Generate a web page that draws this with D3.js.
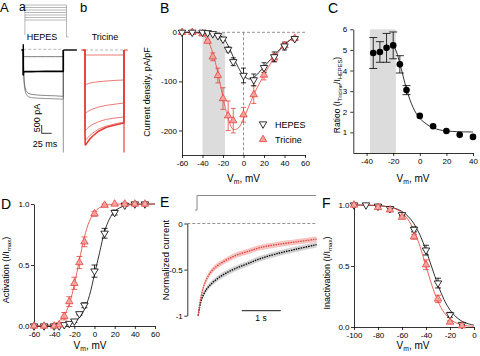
<!DOCTYPE html>
<html>
<head>
<meta charset="utf-8">
<script src="https://cdn.jsdelivr.net/npm/d3@7/dist/d3.min.js"></script>
<style>
html,body{margin:0;padding:0;background:#fff;}
svg{display:block;}
text{font-family:"Liberation Sans",Arial,Helvetica,sans-serif;}
</style>
</head>
<body>
<svg id="fig" width="480" height="356" viewBox="0 0 480 356"></svg>
<script>
// ================= DATA =================
// Panel A: voltage protocol steps (mV) and current traces (ms, pA)
const aProtoSteps = [-40, -30, -20, -10, 0, 10, 20];
const aTime = [0, 0.5, 1, 2, 4, 7, 12, 20, 35, 55, 80, 100];
const aHepes1 = [-300, -380, -400, -400, -400, -400, -400, -400, -400, -400, -400, -400];
const aHepes2 = [-1500, -1380, -1330, -1310, -1300, -1300, -1300, -1300, -1290, -1285, -1280, -1280];
const aHepes3 = [-350, -850, -1300, -1800, -2200, -2450, -2600, -2660, -2700, -2730, -2750, -2780];
const aHepes4 = [-400, -950, -1450, -2000, -2400, -2650, -2800, -2860, -2890, -2910, -2930, -2950];
const aTric1 = [-200, -300, -300, -300, -300, -300, -300, -300, -300, -300, -300, -300];
const aTric2 = [-1400, -2000, -2100, -2100, -2070, -2030, -1990, -1950, -1900, -1860, -1820, -1800];
const aTric3 = [-3000, -3650, -3780, -3780, -3740, -3700, -3620, -3540, -3420, -3320, -3240, -3180];
const aTric4 = [-4000, -4700, -4800, -4800, -4750, -4680, -4580, -4460, -4300, -4160, -4070, -4020];
const aTric5 = [-4550, -5300, -5400, -5400, -5340, -5260, -5140, -4980, -4740, -4560, -4420, -4320];
const aTric6 = [-5000, -5600, -5700, -5690, -5620, -5510, -5350, -5160, -4870, -4640, -4480, -4380];
const aTail = -6150;

// Panel B: I-V (mV, pA/pF)
const bV = [-60, -50, -40, -35, -30, -25, -20, -15, -10, 0, 10, 20, 30, 40, 50];
const bHepes = [0, 0, 0, -1, -3, -7, -14, -35, -60, -88, -97, -72, -50, -28, -13];
const bHepesErr = [0, 0, 0, 0, 0, 0, 2, 5, 8, 15, 12, 10, 10, 8, 4];
const bTric = [0, 0, -3, -18, -50, -88, -135, -170, -180, -168, -127, -87, -52, -27, -12];
const bTricErr = [0, 0, 0, 3, 8, 15, 22, 30, 25, 15, 18, 10, 8, 5, 3];
const bFitV = [-60, -50, -45, -40, -35, -30, -25, -20, -15, -10, -5, 0, 5, 10, 20, 30, 40, 50];
const bFitTric = [0, -0.5, -2, -5, -16, -42, -83, -133, -175, -198, -195, -176, -152, -127, -87, -52, -26, -8];
const bFitHepes = [0, 0, 0, 0, -0.5, -1.5, -4, -11, -27, -50, -72, -88, -95, -92, -70, -47, -25, -8];
const bShade = [-40, -18];

// Panel C: ratio
const cV = [-35, -30, -25, -20, -15, -10, 0, 10, 20, 30, 40];
const cR = [4.85, 4.9, 5.1, 5.22, 4.3, 3.05, 1.8, 1.3, 1.07, 0.88, 0.78];
const cErr = [0.75, 0.5, 0.7, 0.65, 0.42, 0.22, 0, 0, 0, 0, 0];
const cFitV = [-22, -20, -17.5, -15, -12.5, -10, -7.5, -5, -2.5, 0, 5, 10, 15, 20, 30, 40];
const cFit = [5.3, 5.22, 4.9, 4.35, 3.72, 3.1, 2.6, 2.2, 1.9, 1.68, 1.4, 1.22, 1.12, 1.07, 1.03, 1.02];
const cShade = [-37.5, -18];

// Panel D: activation
const dV = [-60, -50, -40, -35, -30, -25, -20, -15, -10, 0, 10, 20, 30, 40, 50];
const dTric = [0, 0, 0, 0.01, 0.08, 0.2, 0.35, 0.52, 0.69, 0.92, 0.99, 1, 1, 1, 1];
const dTricErr = [0, 0, 0, 0.01, 0.03, 0.04, 0.05, 0.05, 0.04, 0.02, 0.01, 0, 0, 0, 0];
const dHepes = [0, 0, 0, 0, 0.01, 0.02, 0.04, 0.1, 0.17, 0.45, 0.76, 0.93, 0.99, 1, 1];
const dHepesErr = [0, 0, 0, 0, 0, 0, 0.01, 0.01, 0.02, 0.05, 0.04, 0.02, 0.01, 0, 0];
const dFitV = [-60, -50, -40, -35, -30, -25, -20, -15, -10, -5, 0, 5, 10, 15, 20, 30, 40, 50, 60];
const dFitTric = [0, 0.003, 0.018, 0.04, 0.088, 0.18, 0.34, 0.54, 0.73, 0.86, 0.935, 0.97, 0.987, 0.995, 0.998, 1, 1, 1, 1];
const dFitHepes = [0, 0, 0.002, 0.005, 0.01, 0.017, 0.033, 0.068, 0.136, 0.25, 0.424, 0.6, 0.774, 0.88, 0.941, 0.986, 0.997, 0.999, 1];

// Panel E: normalized current decay (s)
const eT = [0, 0.03, 0.08, 0.15, 0.22, 0.3, 0.4, 0.55, 0.75, 1.0, 1.3, 1.6, 2.0, 2.5, 3.04];
const eTric = [-1, -0.9, -0.78, -0.67, -0.6, -0.54, -0.49, -0.44, -0.39, -0.34, -0.3, -0.26, -0.23, -0.2, -0.17];
const eHepes = [-1, -0.92, -0.83, -0.76, -0.71, -0.67, -0.63, -0.58, -0.53, -0.48, -0.43, -0.38, -0.33, -0.28, -0.23];
const eSem = 0.03;

// Panel F: inactivation
const fVH = [-100, -90, -80, -70, -60, -50, -40, -30, -20, -10];
const fHepes = [1.0, 1.0, 0.99, 0.97, 0.92, 0.8, 0.63, 0.36, 0.1, 0.02];
const fHepesErr = [0, 0, 0, 0, 0.01, 0.02, 0.04, 0.04, 0.02, 0.01];
const fVT = [-100, -80, -70, -60, -50, -40, -30, -20, -10];
const fTric = [1.0, 0.98, 0.96, 0.9, 0.74, 0.51, 0.23, 0.04, 0.01];
const fTricErr = [0, 0, 0, 0.01, 0.02, 0.04, 0.03, 0.01, 0];
const fFitV = [-100, -90, -80, -70, -65, -60, -55, -50, -45, -40, -35, -30, -25, -20, -15, -10, -5, 0];
const fFitHepes = [1.0, 0.998, 0.995, 0.983, 0.97, 0.947, 0.908, 0.846, 0.754, 0.629, 0.485, 0.344, 0.225, 0.139, 0.083, 0.047, 0.027, 0.015];
const fFitTric = [1.0, 0.999, 0.995, 0.982, 0.966, 0.935, 0.881, 0.791, 0.661, 0.5, 0.339, 0.209, 0.119, 0.065, 0.034, 0.018, 0.009, 0.005];

// ================= DRAWING =================
const FONT = '"Liberation Sans", Arial, Helvetica, sans-serif';
const RED = "#e3413b", PINK = "#f5a3a0", SHADE = "#dcdcdc";
const svg = d3.select("#fig");
const zip = (a, b) => a.map((v, i) => [v, b[i]]);

function txt(x, y, s, size, anchor, rot) {
  const t = svg.append("text").attr("font-size", size).attr("fill", "#000")
    .attr("text-anchor", anchor || "start");
  if (rot) t.attr("transform", `translate(${x},${y}) rotate(${rot})`);
  else t.attr("x", x).attr("y", y);
  if (typeof s === "string") t.text(s);
  else s.forEach(p => {
    const ts = t.append("tspan").text(p.t);
    if (p.sub) ts.attr("font-size", size * 0.68).attr("dy", size * 0.22);
    if (p.up) ts.attr("dy", -size * 0.22);
  });
  return t;
}
function vmLabel(cx, y) {
  txt(cx, y, [{t: "V"}, {t: "m", sub: 1}, {t: ", mV", up: 1}], 10, "middle");
}
function styleAxis(g, fs) {
  g.attr("font-family", FONT).attr("font-size", fs);
  g.selectAll("text").attr("fill", "#000");
  g.selectAll("line").attr("stroke", "#000").attr("stroke-width", 0.8);
  g.select(".domain").attr("stroke", "#000").attr("stroke-width", 0.8);
}
function axisB(sx, y, ticks, fs) {
  const g = svg.append("g").attr("transform", `translate(0,${y})`)
    .call(d3.axisBottom(sx).tickValues(ticks).tickFormat(d => String(d)).tickSize(3).tickSizeOuter(0).tickPadding(2));
  styleAxis(g, fs);
}
function axisL(sy, x, ticks, fmt, fs, pad) {
  const g = svg.append("g").attr("transform", `translate(${x},0)`)
    .call(d3.axisLeft(sy).tickValues(ticks).tickFormat(fmt).tickSize(3).tickSizeOuter(0).tickPadding(pad == null ? 2 : pad));
  styleAxis(g, fs);
}
const triPath = d3.symbol().type(d3.symbolTriangle).size(24)();
function tris(xs, ys, sx, sy, down, fill, stroke, op) {
  svg.append("g").selectAll("path").data(zip(xs, ys)).join("path")
    .attr("d", triPath)
    .attr("transform", d => `translate(${sx(d[0])},${sy(d[1])})${down ? " rotate(180)" : ""}`)
    .attr("fill", fill).attr("fill-opacity", op == null ? 1 : op)
    .attr("stroke", stroke).attr("stroke-width", 0.8);
}
function errs(xs, ys, es, sx, sy, color, cap) {
  const g = svg.append("g").attr("stroke", color).attr("stroke-width", 0.8);
  xs.forEach((v, i) => {
    if (!es[i]) return;
    const x = sx(v), y1 = sy(ys[i] - es[i]), y2 = sy(ys[i] + es[i]);
    g.append("line").attr("x1", x).attr("x2", x).attr("y1", y1).attr("y2", y2);
    g.append("line").attr("x1", x - cap).attr("x2", x + cap).attr("y1", y1).attr("y2", y1);
    g.append("line").attr("x1", x - cap).attr("x2", x + cap).attr("y1", y2).attr("y2", y2);
  });
}
function curve(xs, ys, sx, sy, color, w, dash, cv) {
  const p = svg.append("path").datum(zip(xs, ys))
    .attr("d", d3.line().x(d => sx(d[0])).y(d => sy(d[1])).curve(cv || d3.curveCatmullRom))
    .attr("fill", "none").attr("stroke", color).attr("stroke-width", w);
  if (dash) p.attr("stroke-dasharray", dash);
  return p;
}
function hline(x1, x2, y, color, w, dash) {
  const l = svg.append("line").attr("x1", x1).attr("x2", x2).attr("y1", y).attr("y2", y)
    .attr("stroke", color).attr("stroke-width", w);
  if (dash) l.attr("stroke-dasharray", dash);
}
function vline(x, y1, y2, color, w, dash) {
  const l = svg.append("line").attr("x1", x).attr("x2", x).attr("y1", y1).attr("y2", y2)
    .attr("stroke", color).attr("stroke-width", w);
  if (dash) l.attr("stroke-dasharray", dash);
}

// ---------- Panel A ----------
{
  const xa = d3.scaleLinear([0, 100], [23.3, 63.3]);
  const xb = d3.scaleLinear([0, 100], [85, 124]);
  const yA = d3.scaleLinear([-6000, 0], [150, 50]);
  const yP = d3.scaleLinear([-100, 20], [35, 5]);
  // protocol
  aProtoSteps.forEach(v => hline(xa(4), xa(108), yP(v), "#999", 0.7));
  vline(xa(4), yP(20), yP(-100), "#999", 0.7);
  vline(xa(108), yP(20), yP(-100) + 2, "#999", 0.7);
  hline(xa(108), xa(113), yP(-100) + 2, "#999", 0.7);
  txt(42, 39.5, "HEPES", 9, "middle");
  txt(105, 39.5, "Tricine", 9, "middle");

  const trace = (sx, vals, color, w) => {
    const pts = [[-4, 0], [0, 0]].concat(zip(aTime, vals)).concat([[100, 0]]);
    svg.append("path").datum(pts)
      .attr("d", d3.line().x(d => sx(d[0])).y(d => yA(d[1])))
      .attr("fill", "none").attr("stroke", color).attr("stroke-width", w).attr("stroke-linejoin", "round");
  };
  // HEPES
  hline(xa(0), xa(100), yA(0) - 0.7, "#aaa", 0.8, "3,2");
  vline(xa(100), yA(0), yA(aTail), "#888", 0.9);
  trace(xa, aHepes4, "#666", 0.7);
  trace(xa, aHepes3, "#555", 0.7);
  trace(xa, aHepes1, "#444", 0.7);
  trace(xa, aHepes2, "#000", 1.6);
  vline(xa(0), yA(350), yA(-1500), "#000", 1.4);
  hline(xa(-4), xa(0), yA(0), "#000", 1.4);
  hline(xa(100), xa(134), yA(0), "#000", 1.4);
  // Tricine
  hline(xb(0), xb(100), yA(0), "#aaa", 0.8, "3,2");
  vline(xb(100), yA(0), yA(aTail), RED, 1.2);
  [aTric1, aTric2, aTric3, aTric4, aTric5].forEach(t => trace(xb, t, RED, 0.7));
  trace(xb, aTric6, RED, 1.6);
  hline(xb(-10), xb(0), yA(0), RED, 1);
  hline(xb(100), xb(110), yA(0), RED, 1);
  // scale bars
  const sbx = 41.7, sby = 133.3;
  svg.append("path").attr("d", `M${sbx},${sby - 8.3}V${sby}H${sbx + 10}`)
    .attr("fill", "none").attr("stroke", "#000").attr("stroke-width", 0.8);
  txt(39.5, 118, "500 pA", 9, "middle", -90);
  txt(45, 147, "25 ms", 9, "middle");
  txt(0, 12, "A", 13);
  txt(19, 10.5, "a", 12);
  txt(80, 12, "b", 13);
}

// ---------- Panel B ----------
{
  const x = d3.scaleLinear([-60, 60], [182, 305]);
  const y = d3.scaleLinear([-250, 0], [155, 32.3]);
  svg.append("rect").attr("x", x(bShade[0])).attr("width", x(bShade[1]) - x(bShade[0]))
    .attr("y", y(0)).attr("height", y(-250) - y(0)).attr("fill", SHADE);
  hline(x(-60), x(60), y(0), "#777", 0.8, "3,2");
  vline(x(0), y(0), y(-250), "#777", 0.8, "3,2");
  axisB(x, 155, [-60, -40, -20, 0, 20, 40, 60], 8);
  axisL(y, 182, [0, -100, -200], d => String(d), 8);
  curve(bFitV, bFitTric, x, y, RED, 0.8);
  curve(bFitV, bFitHepes, x, y, "#000", 0.8);
  errs(bV, bTric, bTricErr, x, y, RED, 2.5);
  errs(bV, bHepes, bHepesErr, x, y, "#000", 2.5);
  tris(bV, bTric, x, y, false, PINK, RED);
  tris(bV, bHepes, x, y, true, "#fff", "#000");
  // legend
  svg.append("path").attr("d", triPath).attr("transform", "translate(263,124) rotate(180)")
    .attr("fill", "#fff").attr("stroke", "#000").attr("stroke-width", 0.8);
  svg.append("path").attr("d", triPath).attr("transform", "translate(263,139.5)")
    .attr("fill", PINK).attr("stroke", RED).attr("stroke-width", 0.8);
  txt(275, 127.5, "HEPES", 9);
  txt(275, 143, "Tricine", 9);
  txt(150, 92, "Current density, pA/pF", 9, "middle", -90);
  vmLabel(243.5, 181.5);
  txt(160, 12.5, "B", 14);
}

// ---------- Panel C ----------
{
  const x = d3.scaleLinear([-50, 40], [353.3, 473]);
  const y = d3.scaleLinear([0, 6], [153, 29.3]);
  svg.append("rect").attr("x", x(cShade[0])).attr("width", x(cShade[1]) - x(cShade[0]))
    .attr("y", y(6)).attr("height", y(0) - y(6)).attr("fill", SHADE);
  axisB(x, 153, [-40, -20, 0, 20, 40], 8);
  axisL(y, 353.3, [1, 2, 3, 4, 5, 6], d => String(d), 8, 3);
  curve(cFitV, cFit, x, y, "#000", 0.8);
  errs(cV, cR, cErr, x, y, "#000", 4);
  svg.append("g").selectAll("circle").data(zip(cV, cR)).join("circle")
    .attr("cx", d => x(d[0])).attr("cy", d => y(d[1])).attr("r", 3.3).attr("fill", "#000");
  txt(340, 95, [{t: "Ratioo (I"}, {t: "Tricine", sub: 1}, {t: "/I", up: 1}, {t: "HEPES", sub: 1}, {t: ")", up: 1}], 8.5, "middle", -90);
  vmLabel(413, 181.5);
  txt(328, 12.5, "C", 14);
}

// ---------- Panel D ----------
{
  const x = d3.scaleLinear([-60, 60], [34, 155]);
  const y = d3.scaleLinear([0, 1], [326, 204]);
  axisB(x, 326, [-60, -40, -20, 0, 20, 40, 60], 8);
  axisL(y, 34, [0, 0.5, 1], d3.format(".1f"), 8, 1.5);
  curve(dFitV, dFitHepes, x, y, "#000", 0.8);
  curve(dFitV, dFitTric, x, y, RED, 0.8);
  errs(dV, dHepes, dHepesErr, x, y, "#000", 3);
  errs(dV, dTric, dTricErr, x, y, RED, 3);
  tris(dV, dHepes, x, y, true, "#fff", "#000");
  tris(dV, dTric, x, y, false, PINK, RED, 0.9);
  txt(9, 270, [{t: "Activation (I/I"}, {t: "max", sub: 1}, {t: ")", up: 1}], 9, "middle", -90);
  vmLabel(90, 349);
  txt(1, 208.5, "D", 14);
}

// ---------- Panel E ----------
{
  const x = d3.scaleLinear([-0.28, 3.05], [187.3, 317]);
  const y = d3.scaleLinear([-1, 0], [315.7, 223.5]);
  // protocol step
  svg.append("path").attr("d", `M195,210H${x(-0.03)}V195.5H316`)
    .attr("fill", "none").attr("stroke", "#888").attr("stroke-width", 1);
  hline(187.3, 317, y(0), "#777", 0.8, "3,2");
  axisL(y, 187.3, [0, -0.5, -1], d => String(d), 8, 1.5);
  const band = (vals, color) => svg.append("path").datum(zip(eT, vals))
    .attr("d", d3.area().x(d => x(d[0])).y0(d => y(d[1] - eSem)).y1(d => y(d[1] + eSem)).curve(d3.curveCatmullRom))
    .attr("fill", color);
  band(eHepes, "#d2d2d2");
  band(eTric, "#f7c4c2");
  curve(eT, eHepes, x, y, "#000", 1.3, "1.5,1");
  curve(eT, eTric, x, y, RED, 1.3, "1.5,1");
  hline(x(1.12), x(2.12), 310.7, "#000", 0.9);
  txt(261, 321, "1 s", 8.5, "middle");
  txt(168.5, 260, "Normalized current", 9.5, "middle", -90);
  txt(160, 207, "E", 14);
}

// ---------- Panel F ----------
{
  const x = d3.scaleLinear([-100, 0], [354, 474]);
  const y = d3.scaleLinear([0, 1], [327, 205]);
  axisB(x, 327, [-100, -80, -60, -40, -20, 0], 8);
  axisL(y, 354, [0, 0.5, 1], d3.format(".1f"), 8, 1.5);
  curve(fFitV, fFitHepes, x, y, "#000", 0.8);
  curve(fFitV, fFitTric, x, y, RED, 0.8);
  errs(fVH, fHepes, fHepesErr, x, y, "#000", 3);
  errs(fVT, fTric, fTricErr, x, y, RED, 3);
  tris(fVH, fHepes, x, y, true, "#fff", "#000");
  tris(fVT, fTric, x, y, false, PINK, RED, 0.9);
  txt(330, 273, [{t: "Inactivation (I/I"}, {t: "max", sub: 1}, {t: ")", up: 1}], 9, "middle", -90);
  vmLabel(413, 349);
  txt(322, 207.5, "F", 14);
}
</script>
</body>
</html>
